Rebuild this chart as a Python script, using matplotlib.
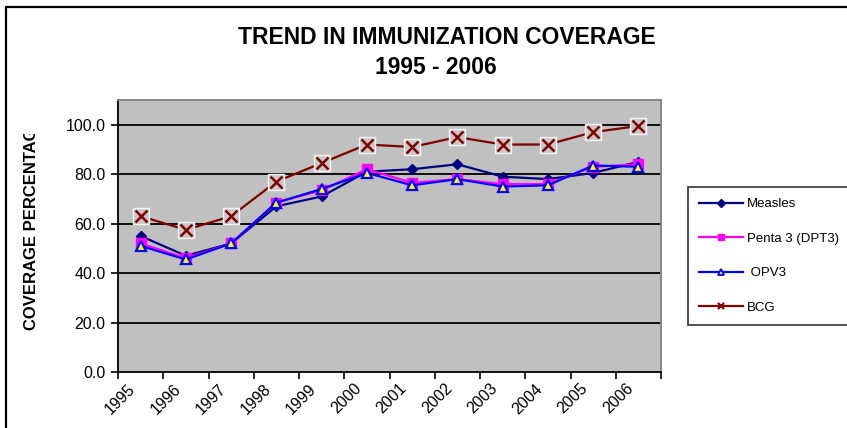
import matplotlib
matplotlib.use("Agg")
import matplotlib.pyplot as plt
from matplotlib.lines import Line2D
from matplotlib.transforms import Bbox, TransformedBbox, ScaledTranslation

years = ["1995", "1996", "1997", "1998", "1999", "2000",
         "2001", "2002", "2003", "2004", "2005", "2006"]
measles = [55, 47, 52, 67, 71, 81, 82, 84, 79, 78, 80.5, 85]
penta3 = [52, 46, 52, 68.5, 73.5, 82, 76.5, 78, 76, 76, 83, 84]
opv3 = [51, 45.5, 52, 68.5, 74, 80.5, 75.5, 78, 75, 75.5, 83.5, 83]
bcg = [63, 57.5, 63, 77, 84.5, 92, 91, 95, 92, 92, 97, 99.5]
yticks = [0, 20, 40, 60, 80, 100]

plt.rcParams['font.family'] = ['Liberation Sans', 'DejaVu Sans']

W, H = 847, 428
fig = plt.figure(figsize=(W / 100, H / 100), dpi=100)
fig.patch.set_facecolor('white')

# outer chart border (top and left visible)
fig.add_artist(Line2D([6 / W, 6 / W, 1.0], [0.0, 1 - 7 / H, 1 - 7 / H],
                      transform=fig.transFigure, color='black', lw=1.6))

ax = fig.add_axes([118 / W, (H - 372) / H, (661 - 118) / W, (372 - 100) / H])
ax.set_facecolor('#C0C0C0')
x = list(range(len(years)))

ax.plot(x, measles, color='#000080', lw=1.6, marker='D', ms=5.5,
        mfc='#000080', mec='#000080', zorder=3, label='Measles')
ax.plot(x, penta3, color='#FF00FF', lw=1.6, marker='s', ms=7,
        mfc='#FF00FF', mec='#FF00FF', zorder=4, label='Penta 3 (DPT3)')
ax.plot(x, opv3, color='#0000FF', lw=1.6, marker='^', ms=7.5,
        mfc='#FFFF00', mec='#0000FF', mew=1.6, zorder=5, label='OPV3')
ax.plot(x, bcg, color='#800000', lw=1.6, zorder=6)
ax.plot(x, bcg, ls='none', marker='s', ms=11, mfc='#C8C8C8', mec='#F4F4F4',
        mew=1.0, zorder=6)
ax.plot(x, bcg, ls='none', marker='x', ms=8, mec='#800000', mew=1.8, zorder=7)

ax.set_xlim(-0.5, len(years) - 0.5)
ax.set_ylim(0, 110)
ax.set_yticks(yticks)
ax.set_yticklabels([f"{v:.1f}" for v in yticks], fontsize=11.5)
for v in yticks[1:]:
    ax.axhline(v, color='black', lw=1.3, zorder=1)
ax.set_xticks(x)
ax.set_xticklabels(years, rotation=45, ha='right', rotation_mode='anchor',
                   fontsize=11.5)
ax.set_xticks([i - 0.5 for i in range(len(years) + 1)], minor=True)
ax.tick_params(axis='x', which='major', length=0, pad=0)
ax.tick_params(axis='x', which='minor', length=5, width=1.2, direction='out')
ax.tick_params(axis='y', length=5, width=1.2, direction='out', pad=4)
off = ScaledTranslation(-13 / 100, -9 / 100, fig.dpi_scale_trans)
for lab in ax.get_xticklabels():
    lab.set_transform(lab.get_transform() + off)
for s in ['left', 'bottom']:
    ax.spines[s].set_color('black')
    ax.spines[s].set_linewidth(1.3)
for s in ['top', 'right']:
    ax.spines[s].set_color('#808080')
    ax.spines[s].set_linewidth(1.3)

fig.text(447 / W, 1 - 37 / H, "TREND IN IMMUNIZATION COVERAGE",
         ha='center', va='center', fontsize=16.5, fontweight='bold')
fig.text(436 / W, 1 - 67 / H, "1995 - 2006",
         ha='center', va='center', fontsize=16.5, fontweight='bold')

yl = fig.text(32 / W, 1 - 330 / H, "COVERAGE PERCENTAGE", rotation=90,
              rotation_mode='anchor', ha='left', va='center',
              fontsize=12, fontweight='bold')
yl.set_clip_box(TransformedBbox(Bbox([[0, 0], [100 / W, 1 - 134 / H]]),
                                fig.transFigure))
yl.set_clip_on(True)

handles = [
    Line2D([], [], color='#000080', lw=1.6, marker='D', ms=4, mfc='#000080'),
    Line2D([], [], color='#FF00FF', lw=1.6, marker='s', ms=5, mfc='#FF00FF'),
    Line2D([], [], color='#0000FF', lw=1.6, marker='^', ms=5,
           mfc='#FFFF00', mec='#0000FF', mew=1.3),
    Line2D([], [], color='#800000', lw=1.6, marker='x', ms=5, mew=1.6),
]
labels = ["Measles", "Penta 3 (DPT3)", " OPV3", "BCG"]
leg = fig.legend(handles, labels, loc='upper left',
                 bbox_to_anchor=(688 / W, 1 - 187 / H - 0.01, 170 / W, 0.01),
                 mode='expand', fontsize=9.5, frameon=True, fancybox=False,
                 edgecolor='black', handlelength=3.3, handletextpad=0.3,
                 labelspacing=1.68, borderpad=0.85, borderaxespad=0)
leg.get_frame().set_linewidth(1.2)

fig.savefig("out.png", dpi=100)
